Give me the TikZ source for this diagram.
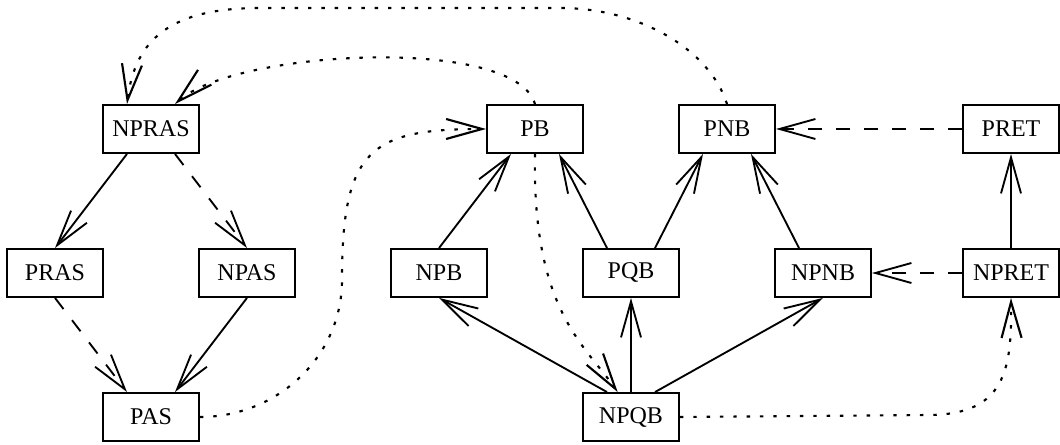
\documentclass[tikz,border=0pt]{standalone}
\usepackage{fontspec}
\setmainfont{Liberation Serif}
\usetikzlibrary{arrows.meta}

\begin{document}
\begin{tikzpicture}[x=0.75pt,y=0.75pt,yscale=-1,xscale=1,
  box/.style={draw,line width=1.4pt,minimum width=72pt,minimum height=36pt,inner sep=0pt,font=\fontsize{18}{20}\selectfont},
  edge/.style={line width=1.4pt,-{Straight Barb[length=27pt,width=15pt]}},
  dashedge/.style={edge,dash pattern=on 10.5pt off 10.5pt},
  dotedge/.style={edge,line width=1.6pt,dash pattern=on 2.6pt off 7.4pt}]
\useasboundingbox (0,0) rectangle (1060,445);

%Shape: Boxes, left group
\node [box] (NPRAS) at (151,129) {NPRAS};
\node [box] (PRAS) at (55,273) {PRAS};
\node [box] (NPAS) at (247,273) {NPAS};
\node [box] (PAS) at (151,417) {PAS};
%Shape: Boxes, right group
\node [box] (PB) at (535,129) {PB};
\node [box] (PNB) at (727,129) {PNB};
\node [box] (PRET) at (1011,129) {PRET};
\node [box] (NPB) at (439,273) {NPB};
\node [box] (PQB) at (631,273) {PQB};
\node [box] (NPNB) at (823,273) {NPNB};
\node [box] (NPRET) at (1011,273) {NPRET};
\node [box] (NPQB) at (631,417) {NPQB};

%Straight Lines
\draw [edge] ([xshift=-18pt]NPRAS.south) -- (PRAS.north);
\draw [dashedge] ([xshift=18pt]NPRAS.south) -- (NPAS.north);
\draw [dashedge] (PRAS.south) -- ([xshift=-18pt]PAS.north);
\draw [edge] (NPAS.south) -- ([xshift=18pt]PAS.north);
\draw [edge] (NPB.north) -- ([xshift=-18pt]PB.south);
\draw [edge] ([xshift=-18pt]PQB.north) -- ([xshift=18pt]PB.south);
\draw [edge] ([xshift=18pt]PQB.north) -- ([xshift=-18pt]PNB.south);
\draw [edge] ([xshift=-18pt]NPNB.north) -- ([xshift=18pt]PNB.south);
\draw [dashedge] (PRET.west) -- (PNB.east);
\draw [edge] (NPRET.north) -- (PRET.south);
\draw [dashedge] (NPRET.west) -- (NPNB.east);
\draw [edge] ([xshift=-18pt]NPQB.north) -- (NPB.south);
\draw [edge] (NPQB.north) -- (PQB.south);
\draw [edge] ([xshift=18pt]NPQB.north) -- (NPNB.south);

%Curve Lines
\draw [dotedge] (PAS.east) .. controls (277,417) and (342,357) .. (342,280) .. controls (342,150) and (370,129) .. (PB.west);
\draw [dotedge] (PB.north) .. controls (515,35) and (235,50) .. ([xshift=18pt]NPRAS.north);
\draw [dotedge] (PNB.north) .. controls (710,50) and (640,8) .. (560,8) -- (260,8) .. controls (170,8) and (135,40) .. ([xshift=-18pt]NPRAS.north);
\draw [dotedge] (PB.south) .. controls (532,310) and (585,345) .. ([xshift=-10pt]NPQB.north);
\draw [dotedge] (NPQB.east) -- (930,415) .. controls (1005,414) and (1012,370) .. (NPRET.south);
\end{tikzpicture}
\end{document}
